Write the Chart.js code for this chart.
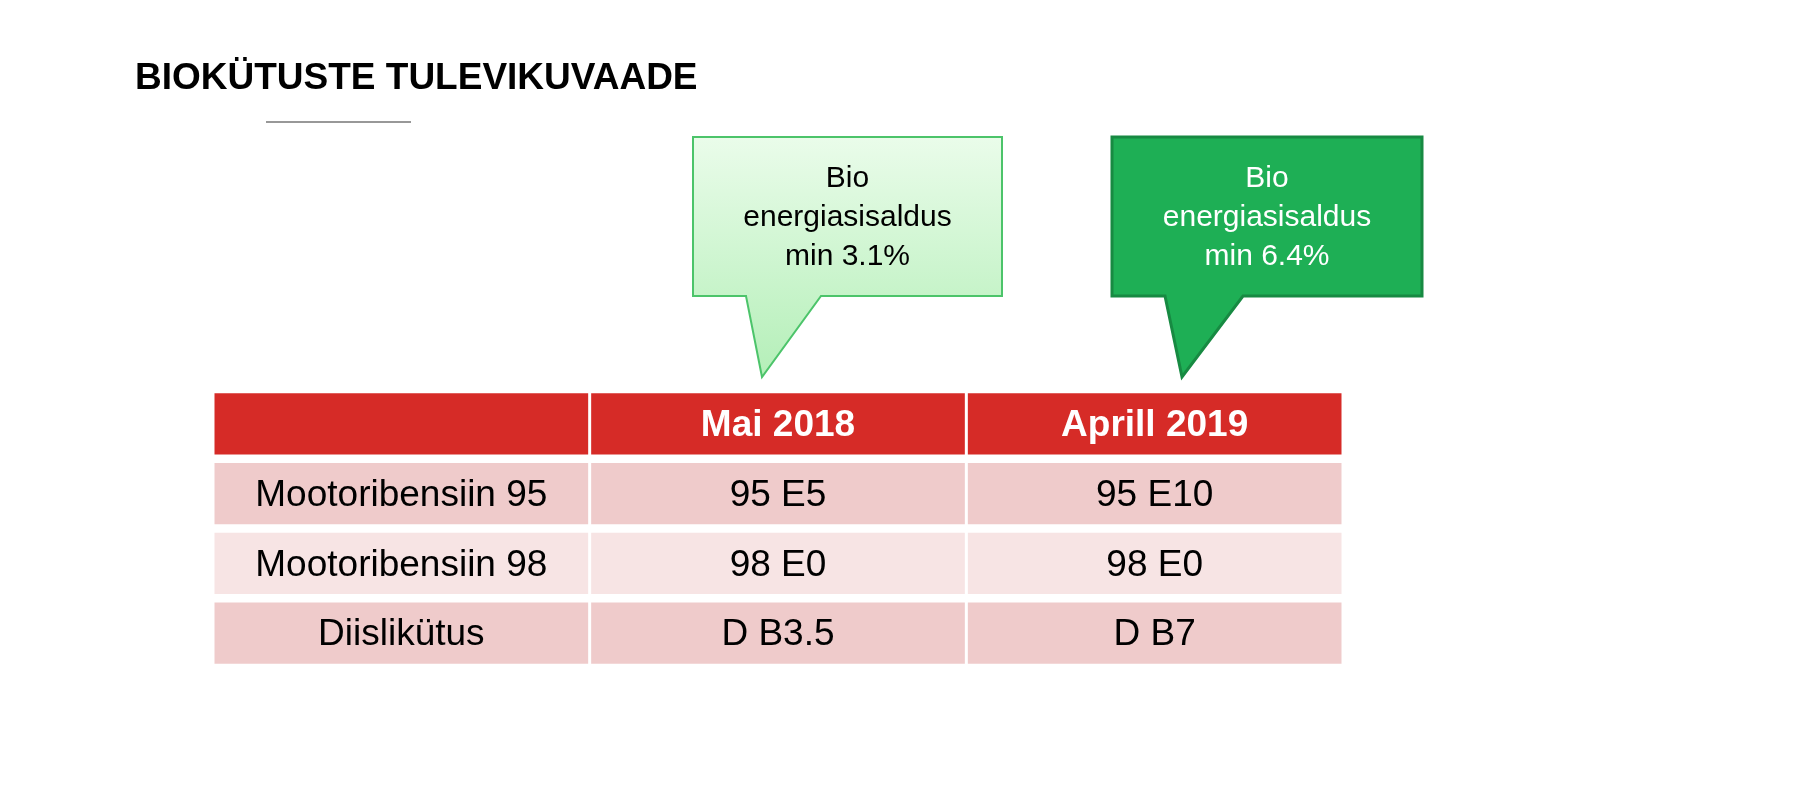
<!DOCTYPE html>
<html><head><meta charset="utf-8">
<script src="https://cdn.jsdelivr.net/npm/chart.js@4"></script>
<style>html,body{margin:0;padding:0;background:#fff}#c{display:block}</style>
</head><body>
<canvas id="c" width="1800" height="801"></canvas>
<script>
const titleText = "BIOKÜTUSTE TULEVIKUVAADE";
const rowLabels = ["", "Mootoribensiin 95", "Mootoribensiin 98", "Diislikütus"];
const periods = ["Mai 2018", "Aprill 2019"];
const may2018 = ["95 E5", "98 E0", "D B3.5"];
const april2019 = ["95 E10", "98 E0", "D B7"];
const calloutTexts = [["Bio", "energiasisaldus", "min 3.1%"], ["Bio", "energiasisaldus", "min 6.4%"]];

const columnsText = [
  rowLabels,
  [periods[0], ...may2018],
  [periods[1], ...april2019]
];
const rowColors = ["#D62B27", "#EFCBCB", "#F7E4E4", "#EFCBCB"];
const cats = ["h", "r1", "r2", "r3"];

const datasets = columnsText.map((col, ci) => ({
  label: "col" + ci,
  data: cats.map(() => [ci, ci + 1]),
  texts: col,
  backgroundColor: rowColors,
  borderColor: "#ffffff",
  borderWidth: 1.5,
  borderSkipped: false,
  barPercentage: 0.92,
  categoryPercentage: 1
}));

const FONT = "'Liberation Sans', Arial, sans-serif";
const deco = {
  id: "deco",
  afterDatasetsDraw(chart) {
    const ctx = chart.ctx;
    ctx.save();
    chart.data.datasets.forEach((ds, di) => {
      chart.getDatasetMeta(di).data.forEach((el, ri) => {
        const t = ds.texts[ri];
        if (!t) return;
        const cx = (el.x + el.base) / 2;
        ctx.textAlign = "center"; ctx.textBaseline = "middle";
        if (ri === 0) { ctx.font = "bold 37px " + FONT; ctx.fillStyle = "#fff"; }
        else { ctx.font = "37px " + FONT; ctx.fillStyle = "#000"; }
        ctx.fillText(t, cx, el.y + 2);
      });
    });
    ctx.textAlign = "left"; ctx.textBaseline = "middle";
    ctx.fillStyle = "#000";
    ctx.font = "bold 37px " + FONT;
    ctx.fillText(titleText, 135, 79);
    ctx.strokeStyle = "#333"; ctx.lineWidth = 1.2;
    ctx.beginPath(); ctx.moveTo(266, 122); ctx.lineTo(411, 122); ctx.stroke();
    const boxes = [
      {x0: 693, x1: 1002, y0: 137, y1: 296, t: [746, 762, 821], tip: 377, fill: null, stroke: "#4CC46A", color: "#000"},
      {x0: 1112, x1: 1422, y0: 137, y1: 296, t: [1165, 1182, 1243], tip: 377, fill: "#1EAF55", stroke: "#178A42", color: "#fff"}
    ];
    boxes.forEach((b, i) => {
      ctx.beginPath();
      ctx.moveTo(b.x0, b.y0); ctx.lineTo(b.x1, b.y0); ctx.lineTo(b.x1, b.y1);
      ctx.lineTo(b.t[2], b.y1); ctx.lineTo(b.t[1], b.tip); ctx.lineTo(b.t[0], b.y1);
      ctx.lineTo(b.x0, b.y1); ctx.closePath();
      if (b.fill) ctx.fillStyle = b.fill;
      else { const g = ctx.createLinearGradient(0, b.y0, 0, b.tip); g.addColorStop(0, "#EAFCEA"); g.addColorStop(1, "#B4EFB8"); ctx.fillStyle = g; }
      ctx.fill();
      ctx.strokeStyle = b.stroke; ctx.lineWidth = i === 1 ? 3 : 2; ctx.stroke();
      ctx.fillStyle = b.color; ctx.textAlign = "center";
      ctx.font = "30px " + FONT;
      const cx = (b.x0 + b.x1) / 2;
      calloutTexts[i].forEach((s, k) => ctx.fillText(s, cx, 179 + k * 39));
    });
    ctx.restore();
  }
};

new Chart(document.getElementById("c"), {
  type: "bar",
  data: { labels: cats, datasets },
  options: {
    indexAxis: "y",
    responsive: false, animation: false,
    layout: { padding: { left: 213, right: 457, top: 389, bottom: 133 } },
    plugins: { legend: { display: false }, tooltip: { enabled: false }, title: { display: false } },
    scales: {
      x: { type: "linear", min: 0, max: 3, display: false, stacked: false },
      y: { display: false, stacked: true, grid: { display: false } }
    }
  },
  plugins: [deco]
});
</script>
</body></html>
